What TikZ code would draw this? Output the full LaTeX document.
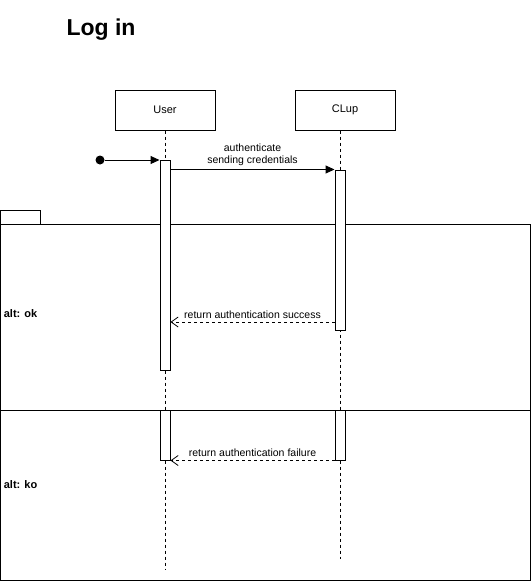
\documentclass[tikz,border=0pt]{standalone}
\usepackage{fontspec}
\setmainfont{Liberation Sans}
\usetikzlibrary{arrows.meta}
\begin{document}
\begin{tikzpicture}[x=1pt,y=-1pt,line width=1pt,
    every node/.style={font=\fontsize{11}{13}\selectfont},
    actor/.style={draw,fill=white,minimum width=100pt,minimum height=40pt,inner sep=0pt},
    act/.style={draw,fill=white,minimum width=10pt,inner sep=0pt},
    lifeline/.style={dash pattern=on 3pt off 3pt},
    call/.style={-{Triangle[length=9pt,width=8pt]}},
    reply/.style={dash pattern=on 3pt off 3pt,-{Straight Barb[length=7pt,width=10pt,line width=0.8pt]}}]
            \useasboundingbox (0,0) rectangle (531,581);
            \node[font=\fontsize{23}{27}\selectfont\bfseries] (title) at (101,30) {Log in};
            % participants
            \node[actor] (user) at (165,110) {User};
            \node[actor] (clup) at (345,110) {CLup};
            \coordinate (userend) at (165,570);
            \coordinate (clupend) at (340,559);
            \draw[lifeline] (user) -- (userend);
            \draw[lifeline] (clup.south -| clupend) -- (clupend);
            % alt frame
            \draw (0.5,224.5) rectangle (530,580);
            \draw (0.5,210.5) rectangle (40,224.5);
            \draw (0.5,410) -- (530,410);
            \node[anchor=west,font=\fontsize{11}{13}\selectfont\bfseries] (ok) at (0,314) {alt: ok};
            \node[anchor=west,font=\fontsize{11}{13}\selectfont\bfseries] (ko) at (0,485) {alt: ko};
            % activations
            \node[act,minimum height=210pt] (ua1) at (165,265) {};
            \node[act,minimum height=160pt] (ca1) at (340,250) {};
            \node[act,minimum height=50pt] (ua2) at (165,435) {};
            \node[act,minimum height=50pt] (ca2) at (340,435) {};
            % messages
            \node[circle,fill,inner sep=0pt,minimum size=9pt] (start) at (100,160) {};
            \draw[call] (start) -- (start -| ua1.west);
            \draw[call] (ua1.east |- ca1.north) -- node[above,align=center,font=\fontsize{10.5}{12}\selectfont] {authenticate\\sending credentials} (ca1.north west);
            \coordinate (okret) at (340,322);
            \draw[reply] (ca1.west |- okret) -- node[above,font=\fontsize{10.5}{12}\selectfont] {return authentication success} (ua1.east |- okret);
            \draw[reply] (ca2.south west) -- node[above,font=\fontsize{10.5}{12}\selectfont] {return authentication failure} (ua2.south east);
        \end{tikzpicture}
\end{document}
